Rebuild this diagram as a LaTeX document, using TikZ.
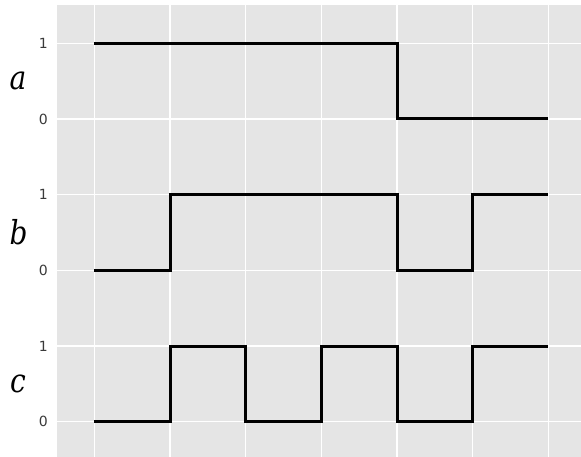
\documentclass[tikz,border=0pt]{standalone}
\usepackage{fontspec}
\setmainfont{DejaVu Sans}
\newfontfamily\labfont{DejaVu Serif}
\definecolor{panelgray}{HTML}{E5E5E5}
\definecolor{ticktext}{HTML}{3A3A3A}
\begin{document}
\begin{tikzpicture}[x=1pt,y=-1pt,
  gridline/.style={white,line width=1.4pt},
  signal/.style={black,line width=3pt,line join=miter,line cap=butt},
  ticklab/.style={font=\fontsize{14}{16}\selectfont,text=ticktext,anchor=east,inner sep=0pt},
  rowlab/.style={font=\fontsize{33}{36}\selectfont\labfont\itshape,inner sep=0pt,xscale=0.85}]
\useasboundingbox (0,0) rectangle (581,457);
\fill[panelgray] (57,5.5) rectangle (581,457);
% vertical grid
\foreach \i in {0,...,6}{
  \draw[gridline] ({94.3+75.67*\i},5.5) -- ({94.3+75.67*\i},457);
}
% horizontal grid
\foreach \y in {43.3,119,194.6,270.3,346,421.6}{
  \draw[gridline] (57,\y) -- (581,\y);
}
% tick labels
\node[ticklab] (a1) at (48,43.3) {1};
\node[ticklab] (a0) at (48,119) {0};
\node[ticklab] (b1) at (48,194.6) {1};
\node[ticklab] (b0) at (48,270.3) {0};
\node[ticklab] (c1) at (48,346) {1};
\node[ticklab] (c0) at (48,421.6) {0};
% row labels
\node[rowlab] (la) at (18,81) {a};
\node[rowlab] (lb) at (18.5,232.5) {b};
\node[rowlab] (lc) at (18,384) {c};
% signals
\draw[signal] (94.3,43.3) -- (397,43.3) -- (397,119) -- (548.3,119);
\draw[signal] (94.3,270.3) -- (170,270.3) -- (170,194.6) -- (397,194.6) -- (397,270.3) -- (472.6,270.3) -- (472.6,194.6) -- (548.3,194.6);
\draw[signal] (94.3,421.6) -- (170,421.6) -- (170,346) -- (245.6,346) -- (245.6,421.6) -- (321.3,421.6) -- (321.3,346) -- (397,346) -- (397,421.6) -- (472.6,421.6) -- (472.6,346) -- (548.3,346);
\end{tikzpicture}
\end{document}
